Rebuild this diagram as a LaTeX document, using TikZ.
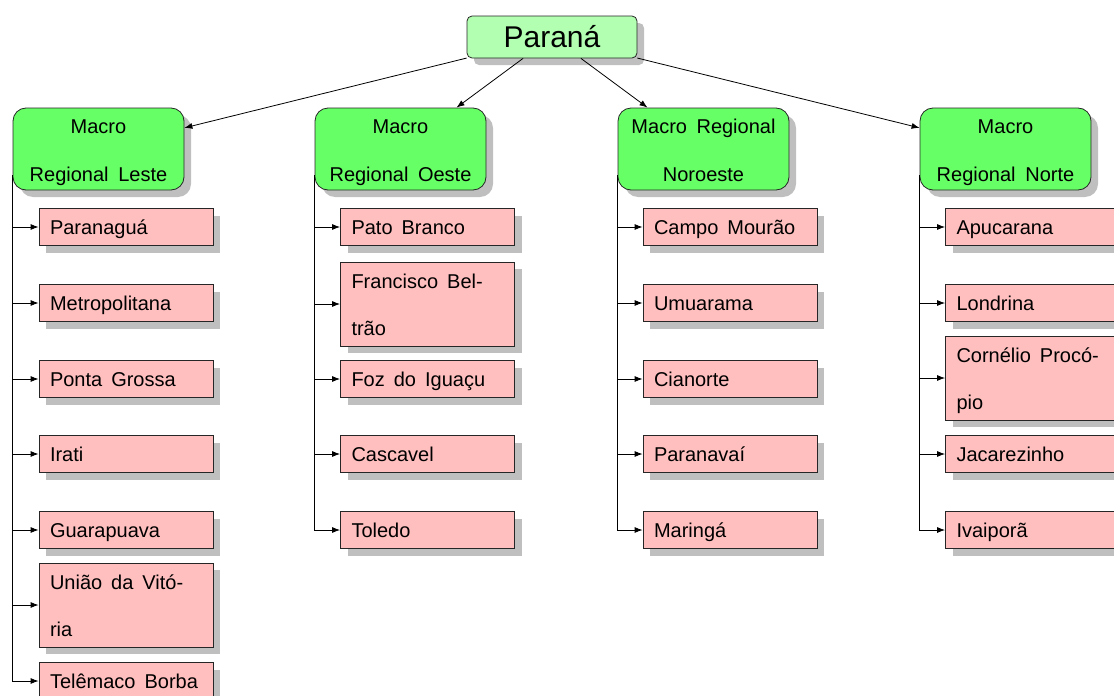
\documentclass[tikz,border=0pt]{standalone}
\usepackage{fontspec}
\setmainfont{Liberation Sans}
\usetikzlibrary{shadows,arrows.meta}
\newcommand\widesp{\spaceskip=9pt plus 2pt minus 1pt\relax}
\newcommand\mtop{\rule{0pt}{21pt}}
\newcommand\mbot{\rule[-5pt]{0pt}{0pt}}
\newcommand\lt[1]{\raisebox{-3pt}[14pt][5pt]{#1}}
\begin{document}
\begin{tikzpicture}[x=1pt,y=-1pt,
 shad/.style={drop shadow={shadow xshift=7pt,shadow yshift=-7pt,fill=black!25,opacity=1}},
 rootbox/.style={draw=black!85,line width=0.8pt,fill=green!30,rounded corners=5pt,minimum width=170pt,minimum height=42pt,inner sep=0pt,shad,font=\fontsize{30}{36}\selectfont},
 macro/.style={draw=black!85,line width=0.8pt,fill=green!60,rounded corners=13pt,minimum width=171pt,minimum height=82pt,text width=165pt,align=center,inner xsep=3pt,inner ysep=0pt,shad,font=\fontsize{20}{48}\selectfont,execute at begin node=\widesp},
 leaf/.style={draw=black!85,line width=0.8pt,fill=red!25,minimum width=174pt,minimum height=37pt,text width=152pt,align=left,inner xsep=11pt,inner ysep=0pt,shad,font=\fontsize{20}{47}\selectfont,execute at begin node=\widesp},
 tall/.style={minimum height=84pt},
 arr/.style={-{Latex[length=8pt,width=6pt]},line width=0.8pt}]
\useasboundingbox (0,0) rectangle (1114,696);

\node[rootbox] (root) at (552,37) {Paraná};

\node[macro] (L) at (98.5,149) {\mtop Macro\\\mbot Regional Leste};
\node[macro] (O) at (400.5,149) {\mtop Macro\\\mbot Regional Oeste};
\node[macro] (NO) at (703.5,149) {\mtop Macro Regional\\\mbot Noroeste};
\node[macro] (N) at (1005.5,149) {\mtop Macro\\\mbot Regional Norte};

\draw[arr] (root) -- (L);
\draw[arr] (root) -- (O);
\draw[arr] (root) -- (NO);
\draw[arr] (root) -- (N);

% Leste
\node[leaf] (L1) at (126,227) {\lt{Paranaguá}};
\node[leaf] (L2) at (126,303) {\lt{Metropolitana}};
\node[leaf] (L3) at (126,379) {\lt{Ponta Grossa}};
\node[leaf] (L4) at (126,454) {\lt{Irati}};
\node[leaf] (L5) at (126,530) {\lt{Guarapuava}};
\node[leaf,tall] (L6) at (126,605) {\lt{União da Vitó-}\\\lt{ria}};
\node[leaf] (L7) at (126,681) {\lt{Telêmaco Borba}};
% Oeste
\node[leaf] (O1) at (427.5,227) {\lt{Pato Branco}};
\node[leaf,tall] (O2) at (427.5,304) {\lt{Francisco Bel-}\\\lt{trão}};
\node[leaf] (O3) at (427.5,379) {\lt{Foz do Iguaçu}};
\node[leaf] (O4) at (427.5,454) {\lt{Cascavel}};
\node[leaf] (O5) at (427.5,530) {\lt{Toledo}};
% Noroeste
\node[leaf] (NO1) at (730,227) {\lt{Campo Mourão}};
\node[leaf] (NO2) at (730,303) {\lt{Umuarama}};
\node[leaf] (NO3) at (730,379) {\lt{Cianorte}};
\node[leaf] (NO4) at (730,454) {\lt{Paranavaí}};
\node[leaf] (NO5) at (730,530) {\lt{Maringá}};
% Norte
\node[leaf] (N1) at (1032.5,227) {\lt{Apucarana}};
\node[leaf] (N2) at (1032.5,303) {\lt{Londrina}};
\node[leaf,tall] (N3) at (1032.5,378) {\lt{Cornélio Procó-}\\\lt{pio}};
\node[leaf] (N4) at (1032.5,454) {\lt{Jacarezinho}};
\node[leaf] (N5) at (1032.5,530) {\lt{Ivaiporã}};

\coordinate (Lt) at ([yshift=-26pt]L.west);
\coordinate (Ot) at ([yshift=-26pt]O.west);
\coordinate (NOt) at ([yshift=-26pt]NO.west);
\coordinate (Nt) at ([yshift=-26pt]N.west);

\foreach \i in {1,...,7} \draw[arr] (Lt) |- (L\i.west);
\foreach \i in {1,...,5} {
  \draw[arr] (Ot) |- (O\i.west);
  \draw[arr] (NOt) |- (NO\i.west);
  \draw[arr] (Nt) |- (N\i.west);
}
\end{tikzpicture}
\end{document}
